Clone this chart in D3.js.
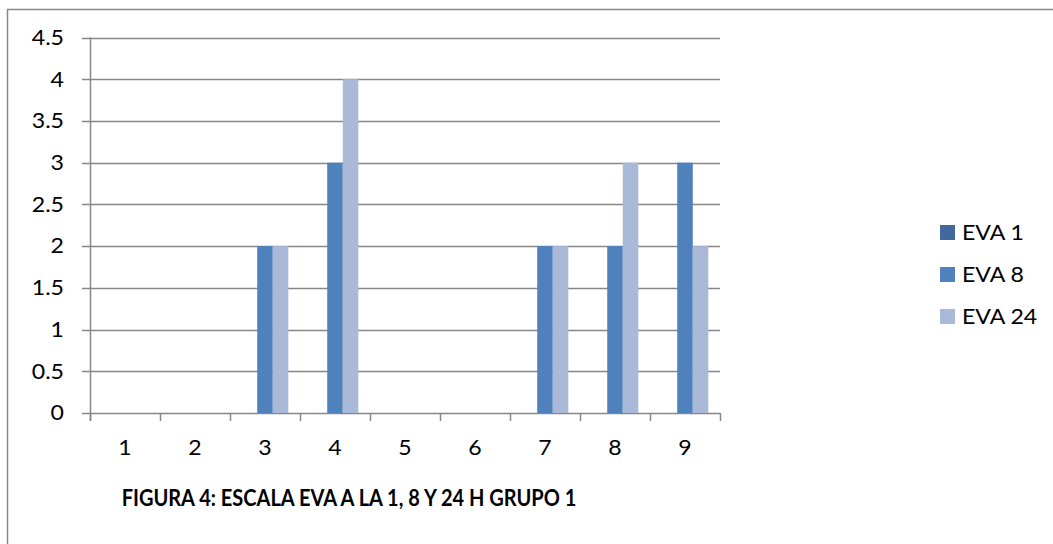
<!DOCTYPE html>
<html>
<head>
<meta charset="utf-8">
<script src="https://cdn.jsdelivr.net/npm/d3@7"></script>
<style>
  html, body { margin: 0; padding: 0; background: #fff; }
  svg { display: block; }
  text { font-family: Lato, "Open Sans", sans-serif; fill: #000; }
</style>
</head>
<body>
<svg id="chart" width="1053" height="544"></svg>
<script>
// Patient groups on the x axis
const categories = ["1", "2", "3", "4", "5", "6", "7", "8", "9"];
// EVA pain scores at 1, 8 and 24 hours
const seriesNames = ["EVA 1", "EVA 8", "EVA 24"];
const eva1 = [0, 0, 0, 0, 0, 0, 0, 0, 0];
const eva8 = [0, 0, 2, 3, 0, 0, 2, 2, 3];
const eva24 = [0, 0, 2, 4, 0, 0, 2, 3, 2];
const yTicks = [0, 0.5, 1, 1.5, 2, 2.5, 3, 3.5, 4, 4.5];
const seriesColors = ["#41699B", "#4F81BD", "#AAB9D8"];
const title = "FIGURA 4: ESCALA EVA A LA 1, 8 Y 24 H GRUPO 1";

const seriesValues = [eva1, eva8, eva24];
const svg = d3.select("#chart");
const grid = "#878787";
const stretch = 1.1;       // horizontal widening of the label glyphs
const titleSquash = 0.91;  // condensed caption

// outer frame (runs past the right and bottom edges)
svg.append("rect")
  .attr("x", 7.5).attr("y", 9.5)
  .attr("width", 1200).attr("height", 700)
  .attr("fill", "#fff").attr("stroke", grid).attr("stroke-width", 1.5);

const plot = { left: 90, right: 720, top: 37.5, bottom: 413 };

const x0 = d3.scaleBand().domain(categories).range([plot.left, plot.right]).padding(0);
const barW = x0.bandwidth() / 4.5;
const x1 = d3.scaleBand().domain(seriesNames).range([0, barW * 3]).padding(0);
const groupOffset = (x0.bandwidth() - barW * 3) / 2;
const y = d3.scaleLinear().domain([0, 4.5]).range([plot.bottom, plot.top]);

// horizontal gridlines with small outer ticks
svg.append("g").selectAll("line").data(yTicks).join("line")
  .attr("x1", plot.left - 8).attr("x2", plot.right)
  .attr("y1", d => Math.round(y(d)) + 0.5).attr("y2", d => Math.round(y(d)) + 0.5)
  .attr("stroke", grid).attr("stroke-width", 1.5);

// value axis line
svg.append("line")
  .attr("x1", plot.left + 0.5).attr("x2", plot.left + 0.5)
  .attr("y1", plot.top).attr("y2", plot.bottom + 8)
  .attr("stroke", grid).attr("stroke-width", 1.5);

// category tick marks at band boundaries
const boundaries = categories.map(c => x0(c)).concat([plot.right]);
svg.append("g").selectAll("line").data(boundaries).join("line")
  .attr("x1", d => Math.round(d) + 0.5).attr("x2", d => Math.round(d) + 0.5)
  .attr("y1", plot.bottom).attr("y2", plot.bottom + 8)
  .attr("stroke", grid).attr("stroke-width", 1.5);

// bars
const rows = categories.map((c, i) => ({ cat: c, vals: seriesNames.map((s, k) => ({ s, k, v: seriesValues[k][i] })) }));
svg.append("g").selectAll("g").data(rows).join("g")
  .attr("transform", d => `translate(${x0(d.cat) + groupOffset},0)`)
  .selectAll("rect").data(d => d.vals.filter(e => e.v > 0)).join("rect")
  .attr("x", d => x1(d.s))
  .attr("width", x1.bandwidth())
  .attr("y", d => y(d.v))
  .attr("height", d => y(0) - y(d.v))
  .attr("fill", d => seriesColors[d.k]);

// y labels
svg.append("g").selectAll("text").data(yTicks).join("text")
  .attr("transform", d => `translate(64,${y(d)}) scale(${stretch},1)`)
  .attr("dy", "0.35em").attr("text-anchor", "end")
  .attr("font-size", 21)
  .text(d => d);

// x labels
svg.append("g").selectAll("text").data(categories).join("text")
  .attr("transform", d => `translate(${x0(d) + x0.bandwidth() / 2},448) scale(${stretch},1)`)
  .attr("dy", "0.35em").attr("text-anchor", "middle")
  .attr("font-size", 21)
  .text(d => d);

// legend
const legendY = [232, 274, 316];
const lg = svg.append("g").selectAll("g").data(seriesNames).join("g")
  .attr("transform", (d, i) => `translate(940,${legendY[i]})`);
lg.append("rect").attr("x", 0).attr("y", -7).attr("width", 15).attr("height", 15)
  .attr("fill", (d, i) => seriesColors[i]);
lg.append("text")
  .attr("transform", `translate(22,1) scale(${stretch},1)`)
  .attr("dy", "0.35em")
  .attr("font-size", 21).text(d => d);

// caption
svg.append("text")
  .attr("transform", `translate(349,498) scale(${titleSquash},1)`)
  .attr("dy", "0.35em")
  .attr("text-anchor", "middle")
  .attr("font-size", 22).attr("font-weight", "bold")
  .text(title);
</script>
</body>
</html>
